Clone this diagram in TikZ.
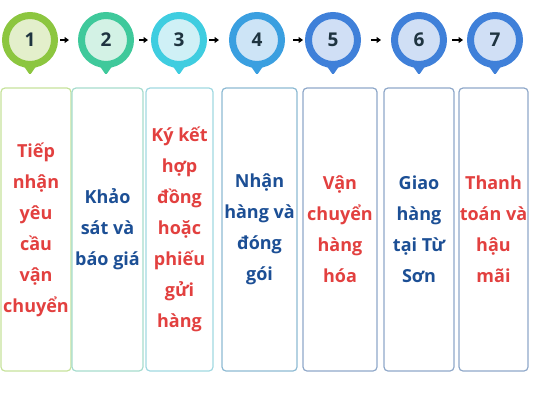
\documentclass[tikz,border=0pt]{standalone}
\usepackage{fontspec}
\setmainfont{Open Sans}
\usepackage{tikz}
\usetikzlibrary{arrows.meta,shapes,calc}

\definecolor{ringA}{HTML}{8CC63F}
\definecolor{ringB}{HTML}{3FC99B}
\definecolor{ringC}{HTML}{3FCDE0}
\definecolor{ringD}{HTML}{3A9FE0}
\definecolor{ringE}{HTML}{3F80D9}
\definecolor{coreA}{HTML}{E3EFCB}
\definecolor{coreB}{HTML}{D3F2E5}
\definecolor{coreC}{HTML}{CFF0F6}
\definecolor{coreD}{HTML}{CDE4F6}
\definecolor{coreE}{HTML}{D0DFF5}
\definecolor{edgeA}{HTML}{C6E29B}
\definecolor{edgeB}{HTML}{A6DCCD}
\definecolor{edgeC}{HTML}{A0D8E1}
\definecolor{edgeD}{HTML}{8DBAD3}
\definecolor{edgeE}{HTML}{8FA8C9}
\definecolor{numtext}{HTML}{1F3440}
\definecolor{redtext}{HTML}{E2403F}
\definecolor{bluetext}{HTML}{1C4F95}

\begin{document}
\begin{tikzpicture}[x=1pt,y=-1pt,
  num/.style={circle,minimum size=49pt,line width=7pt,inner sep=0pt,text=numtext,font=\fontsize{19}{19}\selectfont\bfseries},
  stepbox/.style={draw,rounded corners=4pt,line width=1.2pt,minimum height=283pt,inner sep=0pt,align=center,font=\fontsize{18}{31}\selectfont\bfseries},
  flow/.style={line width=1.6pt,-{Triangle[length=4.5pt,width=6pt]}}]
\useasboundingbox (0,0) rectangle (533,400);
% markers
\node[num,draw=ringA,fill=coreA] (c1) at (30,40) {1};
\node[num,draw=ringB,fill=coreB] (c2) at (106,40) {2};
\node[num,draw=ringC,fill=coreC] (c3) at (179,40) {3};
\node[num,draw=ringD,fill=coreD] (c4) at (257,40) {4};
\node[num,draw=ringE,fill=coreE] (c5) at (333,40) {5};
\node[num,draw=ringE,fill=coreE] (c6) at (419,40) {6};
\node[num,draw=ringE,fill=coreE] (c7) at (495,40) {7};
\fill[ringA,rounded corners=1.5pt] ($(c1)+(-7,25)$) -- ($(c1)+(0,35)$) -- ($(c1)+(7,25)$) -- cycle;
\fill[ringB,rounded corners=1.5pt] ($(c2)+(-7,25)$) -- ($(c2)+(0,35)$) -- ($(c2)+(7,25)$) -- cycle;
\fill[ringC,rounded corners=1.5pt] ($(c3)+(-7,25)$) -- ($(c3)+(0,35)$) -- ($(c3)+(7,25)$) -- cycle;
\fill[ringD,rounded corners=1.5pt] ($(c4)+(-7,25)$) -- ($(c4)+(0,35)$) -- ($(c4)+(7,25)$) -- cycle;
\fill[ringE,rounded corners=1.5pt] ($(c5)+(-7,25)$) -- ($(c5)+(0,35)$) -- ($(c5)+(7,25)$) -- cycle;
\fill[ringE,rounded corners=1.5pt] ($(c6)+(-7,25)$) -- ($(c6)+(0,35)$) -- ($(c6)+(7,25)$) -- cycle;
\fill[ringE,rounded corners=1.5pt] ($(c7)+(-7,25)$) -- ($(c7)+(0,35)$) -- ($(c7)+(7,25)$) -- cycle;
% arrows
\draw[flow,shorten <=2pt,shorten >=9pt] (c1) -- (c2);
\draw[flow,shorten <=5pt,shorten >=3pt] (c2) -- (c3);
\draw[flow,shorten <=2pt,shorten >=10pt] (c3) -- (c4);
\draw[flow,shorten <=8pt,shorten >=2pt] (c4) -- (c5);
\draw[flow,shorten <=10pt,shorten >=10pt] (c5) -- (c6);
\draw[flow,shorten <=5pt,shorten >=4pt] (c6) -- (c7);
% boxes
\node[stepbox,draw=edgeA,minimum width=70pt,text=redtext] (b1) at (36,229.5) {Tiếp\\nhận\\yêu\\cầu\\vận\\chuyển};
\node[stepbox,draw=edgeB,minimum width=71pt,text=bluetext] (b2) at (107.5,229.5) {Khảo\\sát và\\báo giá};
\node[stepbox,draw=edgeC,minimum width=67pt,text=redtext] (b3) at (179.5,229.5) {Ký kết\\hợp\\đồng\\hoặc\\phiếu\\gửi\\hàng};
\node[stepbox,draw=edgeD,minimum width=75pt,text=bluetext] (b4) at (259.5,229.5) {Nhận\\hàng và\\đóng\\gói};
\node[stepbox,draw=edgeE,minimum width=74pt,text=redtext] (b5) at (340,229.5) {Vận\\chuyển\\hàng\\hóa};
\node[stepbox,draw=edgeE,minimum width=70pt,text=bluetext] (b6) at (419,229.5) {Giao\\hàng\\tại Từ\\Sơn};
\node[stepbox,draw=edgeE,minimum width=69pt,text=redtext] (b7) at (493.5,229.5) {Thanh\\toán và\\hậu\\mãi};
\end{tikzpicture}
\end{document}
